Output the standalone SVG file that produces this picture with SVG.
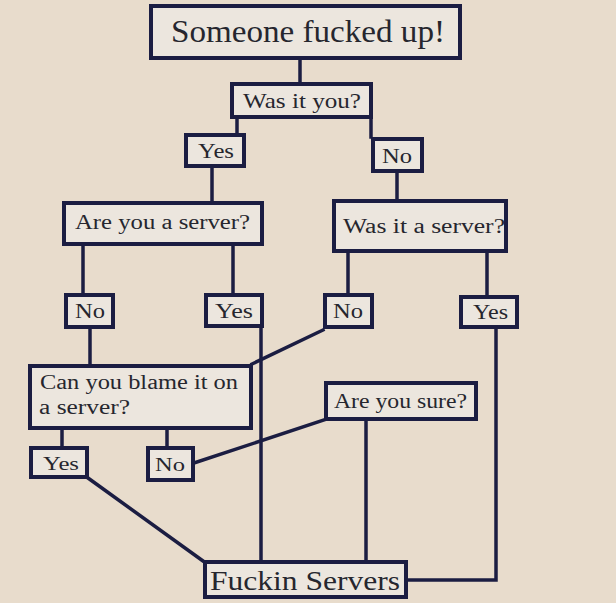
<svg xmlns="http://www.w3.org/2000/svg" width="616" height="603" viewBox="0 0 616 603" font-family="'Liberation Serif', 'Times New Roman', serif">
<style>
.b{fill:#ece6de;stroke:#1b1d42;stroke-width:4}
.l{fill:none;stroke:#1b1d42;stroke-width:3.5;stroke-linecap:square}
.t{fill:#26262e}
</style>
<rect width="616" height="603" fill="#e8dccc"/>
<g id="connectors">
<path class="l" d="M300 60V82"/>
<path class="l" d="M237 118V133"/>
<path class="l" d="M371 118V137"/>
<path class="l" d="M212 167V202"/>
<path class="l" d="M397 172V200"/>
<path class="l" d="M83 245V293"/>
<path class="l" d="M233 245V293"/>
<path class="l" d="M348 252V293"/>
<path class="l" d="M487 252V295"/>
<path class="l" d="M90 328V364"/>
<path class="l" d="M323 330L252 364"/>
<path class="l" d="M261 327V560"/>
<path class="l" d="M62 429V446"/>
<path class="l" d="M167 429V446"/>
<path class="l" d="M194 463L324 420"/>
<path class="l" d="M366 420V560"/>
<path class="l" d="M88 478L203 561"/>
<path class="l" d="M496 327V580H407"/>
</g>
<g id="n1"><rect class="b" x="151" y="6" width="309" height="52" stroke-width="5"/><text class="t" x="171" y="42" font-size="31" textLength="274" lengthAdjust="spacingAndGlyphs">Someone fucked up!</text></g>
<g id="n2"><rect class="b" x="232" y="84" width="139" height="33"/><text class="t" x="243" y="108" font-size="22" textLength="118" lengthAdjust="spacingAndGlyphs">Was it you?</text></g>
<g id="n3"><rect class="b" x="186" y="135" width="58" height="31"/><text class="t" x="198" y="158" font-size="21" textLength="36" lengthAdjust="spacingAndGlyphs">Yes</text></g>
<g id="n4"><rect class="b" x="373" y="139" width="49" height="32"/><text class="t" x="382" y="163" font-size="21" textLength="30" lengthAdjust="spacingAndGlyphs">No</text></g>
<g id="n5"><rect class="b" x="64" y="203" width="198" height="41"/><text class="t" x="75" y="229" font-size="20" textLength="175" lengthAdjust="spacingAndGlyphs">Are you a server?</text></g>
<g id="n6"><rect class="b" x="334" y="201" width="172" height="50"/><text class="t" x="343" y="233" font-size="20" textLength="162" lengthAdjust="spacingAndGlyphs">Was it a server?</text></g>
<g id="n7"><rect class="b" x="66" y="295" width="47" height="32"/><text class="t" x="75" y="318" font-size="20" textLength="30" lengthAdjust="spacingAndGlyphs">No</text></g>
<g id="n8"><rect class="b" x="206" y="295" width="56" height="31"/><text class="t" x="215" y="318" font-size="20" textLength="38" lengthAdjust="spacingAndGlyphs">Yes</text></g>
<g id="n9"><rect class="b" x="325" y="295" width="47" height="32"/><text class="t" x="333" y="318" font-size="20" textLength="30" lengthAdjust="spacingAndGlyphs">No</text></g>
<g id="n10"><rect class="b" x="461" y="297" width="56" height="30"/><text class="t" x="473" y="319" font-size="20" textLength="35" lengthAdjust="spacingAndGlyphs">Yes</text></g>
<g id="n11"><rect class="b" x="30" y="366" width="221" height="62"/><text class="t" x="40" y="389" font-size="20" textLength="198" lengthAdjust="spacingAndGlyphs">Can you blame it on</text><text class="t" x="39" y="414" font-size="20" textLength="91" lengthAdjust="spacingAndGlyphs">a server?</text></g>
<g id="n12"><rect class="b" x="326" y="383" width="150" height="36"/><text class="t" x="334" y="408" font-size="20" textLength="133" lengthAdjust="spacingAndGlyphs">Are you sure?</text></g>
<g id="n13"><rect class="b" x="31" y="448" width="56" height="29"/><text class="t" x="43" y="470" font-size="19" textLength="36" lengthAdjust="spacingAndGlyphs">Yes</text></g>
<g id="n14"><rect class="b" x="148" y="448" width="45" height="32"/><text class="t" x="155" y="471" font-size="19" textLength="30" lengthAdjust="spacingAndGlyphs">No</text></g>
<g id="n15"><rect class="b" x="205" y="562" width="201" height="35"/><text class="t" x="210" y="590" font-size="27" textLength="190" lengthAdjust="spacingAndGlyphs">Fuckin Servers</text></g>
</svg>
